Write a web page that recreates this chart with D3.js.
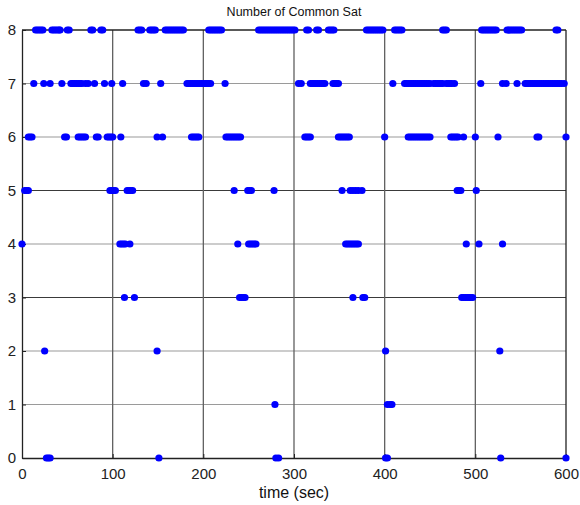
<!DOCTYPE html>
<html>
<head>
<meta charset="utf-8">
<script src="https://cdn.jsdelivr.net/npm/d3@7"></script>
<style>
  body { margin: 0; background: #fff; }
  svg { display: block; font-family: Arial, "Liberation Sans", sans-serif; }
</style>
</head>
<body>
<svg id="chart" width="580" height="505"></svg>
<script>
const TITLE = 'Number of Common Sat';
const X_LABEL = 'time (sec)';
const xTicks = [0, 100, 200, 300, 400, 500, 600];
const yTicks = [0, 1, 2, 3, 4, 5, 6, 7, 8];

// times (sec) at which each satellite count was observed
const sat8 = [15, 17, 19, 21, 23, 33, 35, 37, 39, 41, 42, 50, 52, 76, 78, 87, 89,
  128, 130, 132, 141, 143, 145, 147, 158, 160, 162, 164, 166, 168, 170, 172, 174, 176, 178,
  206, 208, 210, 212, 214, 216, 218, 220,
  261, 263, 265, 267, 269, 271, 273, 275, 277, 279, 281, 283, 285, 287, 289, 291, 293, 295, 297, 299, 301,
  314, 316, 325, 327, 338, 340, 342, 344,
  380, 382, 384, 386, 388, 390, 392, 394, 396, 398, 411, 413, 415, 417, 419, 464, 466, 468,
  507, 509, 511, 513, 515, 517, 519, 521, 523, 535, 537, 539, 541, 543, 545, 547, 549, 551, 589, 591];
const sat7 = [13, 24, 31, 44, 54, 56, 58, 60, 62, 64, 66, 70, 73, 80, 91, 99, 111, 134, 137, 153,
  182, 184, 186, 188, 190, 192, 194, 196, 198, 200, 202, 204, 206, 208, 224,
  305, 308, 318, 320, 322, 324, 326, 328, 330, 332, 334, 343, 345, 347, 349, 409,
  422, 424, 426, 428, 430, 432, 434, 436, 438, 440, 442, 444, 446, 448, 450, 454, 456, 458, 460, 462, 464,
  468, 470, 472, 474, 477, 506, 530, 534, 546,
  555, 557, 559, 561, 563, 565, 567, 569, 571, 573, 575, 577, 579, 581, 583, 585, 587, 589, 591, 593, 595, 598];
const sat6 = [7, 9, 11, 47, 49, 62, 64, 66, 68, 70, 82, 84, 94, 96, 98, 100, 109, 149, 155,
  187, 189, 191, 193, 195, 225, 227, 229, 231, 233, 235, 237, 239, 241,
  312, 314, 316, 318, 349, 351, 353, 355, 357, 359, 361, 400,
  426, 428, 430, 432, 434, 436, 438, 440, 442, 444, 446, 448, 450,
  473, 475, 477, 479, 481, 487, 500, 525, 568, 570, 600];
const sat5 = [3, 5, 7, 97, 99, 101, 103, 116, 118, 120, 122, 234, 249, 251, 253, 278,
  353, 362, 365, 368, 371, 375, 480, 482, 484, 501];
const sat4 = [0, 108, 110, 112, 114, 119, 238, 250, 252, 254, 256, 258,
  357, 359, 361, 363, 365, 367, 369, 371, 490, 504, 530];
const sat3 = [113, 124, 240, 242, 244, 246, 365, 376, 378, 485, 487, 489, 491, 493, 495, 497];
const sat2 = [25, 149, 401, 527];
const sat1 = [279, 403, 406, 408];
const sat0 = [27, 29, 31, 151, 280, 283, 401, 403, 528, 600];

const levels = [sat0, sat1, sat2, sat3, sat4, sat5, sat6, sat7, sat8];

const svg = d3.select('#chart');
const x = d3.scaleLinear().domain([0, 600]).range([22, 566]);
const y = d3.scaleLinear().domain([0, 8]).range([458, 30]);

// horizontal grid (some rows render darker in the original)
const darkRows = new Set([3, 5]);
svg.append('g')
  .selectAll('line')
  .data(yTicks.filter(d => d > 0 && d < 8))
  .join('line')
  .attr('x1', x(0)).attr('x2', x(600))
  .attr('y1', d => y(d)).attr('y2', d => y(d))
  .attr('stroke', d => darkRows.has(d) ? '#3a3a3a' : '#9a9a9a')
  .attr('stroke-width', 1.2);

// vertical grid
svg.append('g')
  .selectAll('line')
  .data(xTicks.filter(d => d > 0 && d < 600))
  .join('line')
  .attr('x1', d => x(d)).attr('x2', d => x(d))
  .attr('y1', y(0)).attr('y2', y(8))
  .attr('stroke', '#606060')
  .attr('stroke-width', 1.3);

// axes (ticks pointing inward, like MATLAB)
const xAxis = d3.axisBottom(x).tickValues(xTicks).tickSize(-4).tickPadding(10).tickSizeOuter(0);
const yAxis = d3.axisLeft(y).tickValues(yTicks).tickSize(-4).tickPadding(6).tickSizeOuter(0);

const gx = svg.append('g').attr('transform', `translate(0,${y(0)})`).call(xAxis);
const gy = svg.append('g').attr('transform', `translate(${x(0)},0)`).call(yAxis);
[gx, gy].forEach(g => {
  g.selectAll('.domain').attr('stroke', '#222').attr('stroke-width', 1.3);
  g.selectAll('.tick line').attr('stroke', '#222');
  g.selectAll('.tick text').attr('fill', '#222').style('font-size', '15px');
});

// box top and right
svg.append('line')
  .attr('x1', x(0)).attr('x2', x(600)).attr('y1', y(8)).attr('y2', y(8))
  .attr('stroke', '#222').attr('stroke-width', 1.3);
svg.append('line')
  .attr('x1', x(600)).attr('x2', x(600)).attr('y1', y(0)).attr('y2', y(8))
  .attr('stroke', '#222').attr('stroke-width', 1.3);

// points
const points = levels.flatMap((times, level) => times.map(t => ({ t, level })));
svg.append('g')
  .selectAll('circle')
  .data(points)
  .join('circle')
  .attr('cx', d => x(d.t))
  .attr('cy', d => y(d.level))
  .attr('r', 3.6)
  .attr('fill', '#0000ff');

svg.append('text')
  .attr('x', 294).attr('y', 16)
  .attr('text-anchor', 'middle')
  .style('font-size', '12.5px')
  .attr('fill', '#111')
  .text(TITLE);

svg.append('text')
  .attr('x', 294).attr('y', 498)
  .attr('text-anchor', 'middle')
  .style('font-size', '16px')
  .attr('fill', '#111')
  .text(X_LABEL);
</script>
</body>
</html>
